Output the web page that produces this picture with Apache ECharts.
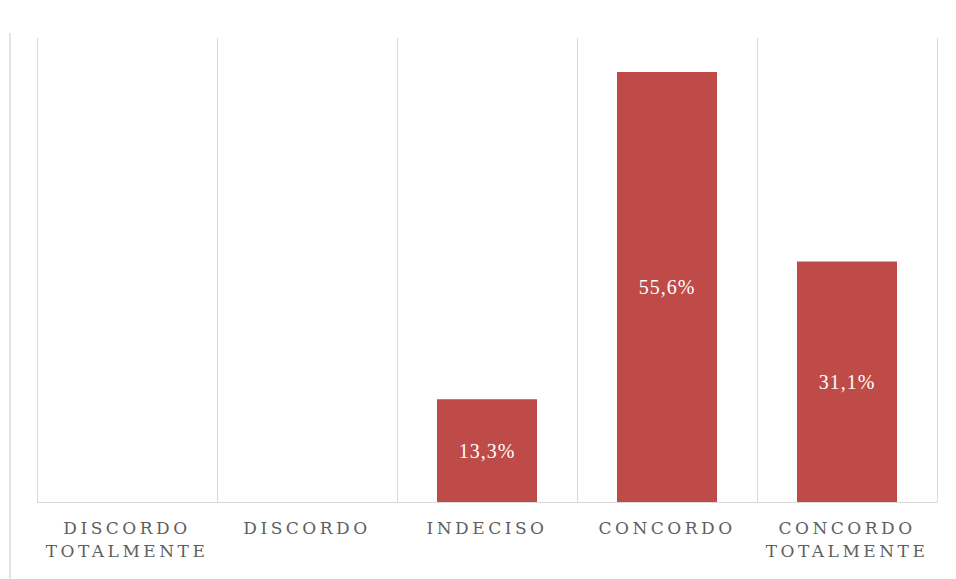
<!DOCTYPE html>
<html>
<head>
<meta charset="utf-8">
<script src="https://cdn.jsdelivr.net/npm/echarts@6/dist/echarts.min.js"></script>
<style>
  html, body { margin: 0; padding: 0; background: #fff; }
  #chart { width: 956px; height: 579px; }
  /* letter spacing of the original captions */
  #chart svg text { letter-spacing: 3.5px; }
  #chart svg text[fill="#fff"] { letter-spacing: 1px; }
</style>
</head>
<body>
<div id="chart"></div>
<script>
const categories = ['DISCORDO\nTOTALMENTE', 'DISCORDO', 'INDECISO', 'CONCORDO', 'CONCORDO\nTOTALMENTE'];
const values = [0, 0, 13.3, 55.6, 31.1];

const chart = echarts.init(document.getElementById('chart'), null, { renderer: 'svg' });

const option = {
  animation: false,
  backgroundColor: '#fff',
  grid: {
    left: 37,
    right: 19,
    top: 38,
    bottom: 77
  },
  // faint frame line on the left, as in the scanned original
  graphic: [
    {
      type: 'line',
      shape: { x1: 10, y1: 33, x2: 10, y2: 579 },
      style: { stroke: '#e3e3e3', lineWidth: 2 }
    }
  ],
  xAxis: {
    type: 'category',
    data: categories,
    axisLine: { lineStyle: { color: '#d9d9d9', width: 1 } },
    axisTick: { show: false },
    splitLine: { show: true, lineStyle: { color: '#d9d9d9', width: 1 } },
    axisLabel: {
      color: '#5f5f5f',
      fontFamily: 'DejaVu Serif',
      fontSize: 17,
      lineHeight: 23,
      margin: 14,
      interval: 0
    }
  },
  yAxis: {
    type: 'value',
    min: 0,
    max: 60,
    interval: 10,
    axisLine: { show: false },
    axisTick: { show: false },
    axisLabel: { show: false },
    splitLine: { show: false }
  },
  series: [
    {
      type: 'bar',
      data: values.map(v => (v > 0 ? v : null)),
      barWidth: 100,
      itemStyle: { color: '#be4b48' },
      label: {
        show: true,
        position: 'inside',
        color: '#fff',
        fontFamily: 'Liberation Serif',
        fontSize: 20,
        formatter: p => p.value.toFixed(1).replace('.', ',') + '%'
      }
    }
  ]
};

chart.setOption(option);
</script>
</body>
</html>
